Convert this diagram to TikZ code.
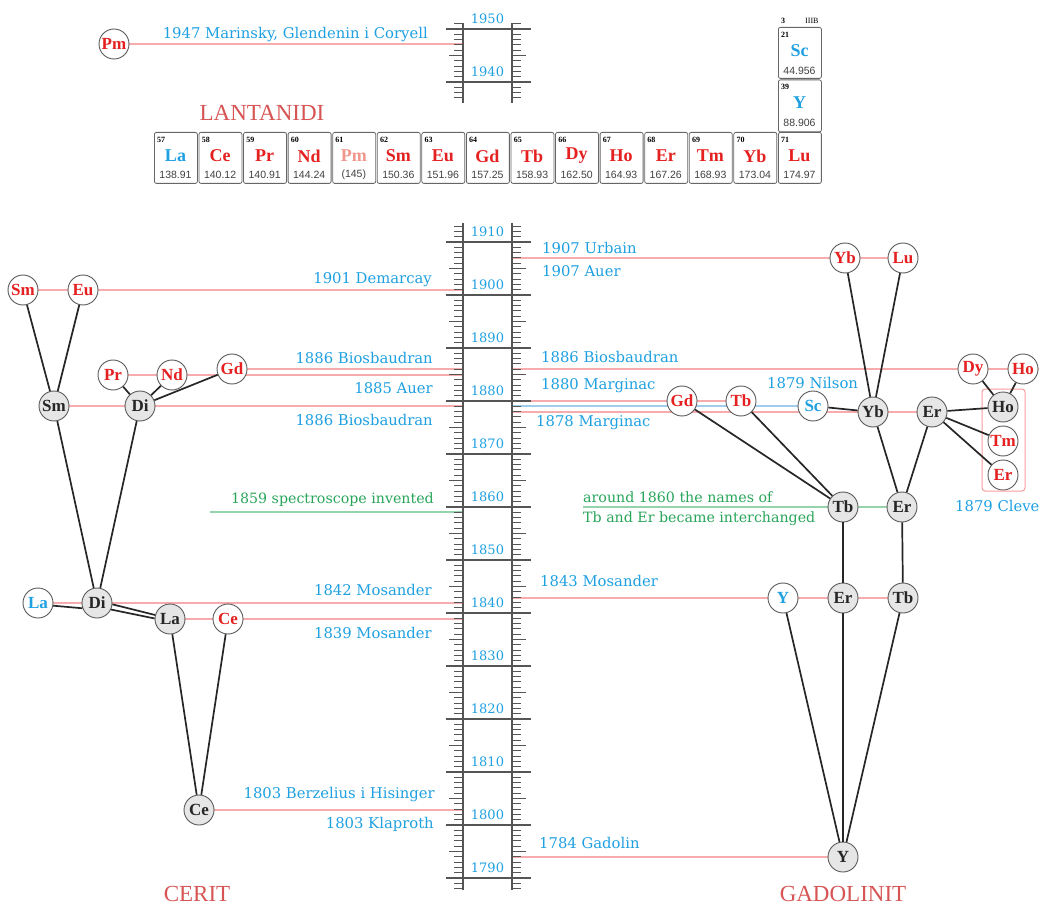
\documentclass[tikz,border=0pt]{standalone}
\usepackage{fontspec}
\setmainfont{DejaVu Serif}
\newfontfamily\elfont{Liberation Serif}
\newfontfamily\massfont{Liberation Sans}
\usetikzlibrary{backgrounds}
\definecolor{blueT}{RGB}{30,160,225}
\definecolor{redE}{RGB}{228,32,32}
\definecolor{pinkL}{RGB}{246,172,172}
\definecolor{greenT}{RGB}{40,165,90}
\definecolor{greenL}{RGB}{150,210,170}
\definecolor{blueL}{RGB}{160,205,235}
\definecolor{titleR}{RGB}{214,84,84}
\definecolor{rulerC}{RGB}{85,85,85}
\definecolor{nodeG}{RGB}{230,230,230}
\definecolor{pmC}{RGB}{242,150,140}
\begin{document}
\begin{tikzpicture}[x=1pt,y=-1pt,
  el/.style={circle,draw=black!65,line width=0.9pt,minimum size=30pt,inner sep=0pt,
    font=\elfont\bfseries\fontsize{17}{17}\selectfont,fill=white},
  elR/.style={el,text=redE},
  elB/.style={el,text=blueT},
  elG/.style={el,fill=nodeG,text=black!85},
  edge/.style={draw=black!85,line width=1.7pt},
  evt/.style={draw=pinkL,line width=1.1pt},
  lbl/.style={font=\fontsize{14.8}{16}\selectfont,text=blueT,inner sep=0pt},
  glbl/.style={font=\fontsize{14.2}{16}\selectfont,text=greenT,inner sep=0pt},
  yrlbl/.style={font=\fontsize{13}{15}\selectfont,text=blueT,inner sep=0pt},
  rul/.style={draw=rulerC,line width=1.1pt},
  ttl/.style={font=\elfont\fontsize{23}{23}\selectfont,text=titleR,inner sep=0pt},
  pbox/.style={draw=black!60,line width=0.8pt,rounded corners=2pt,minimum width=43pt,
    minimum height=51pt,inner sep=0pt,anchor=north west},
  pnum/.style={font=\elfont\bfseries\fontsize{8}{8}\selectfont,inner sep=0pt,anchor=west},
  psym/.style={font=\elfont\bfseries\fontsize{18}{18}\selectfont,inner sep=0pt},
  pmass/.style={font=\massfont\fontsize{10.5}{10.5}\selectfont,text=black!75,inner sep=0pt}
]
\useasboundingbox (0,0) rectangle (1039,909);

% ---------- main ruler ----------
\draw[rul] (463,223) -- (463,890) (512,223) -- (512,890);
\foreach \yr in {1788,...,1913}{
  \pgfmathsetmacro\yy{295+(1900-\yr)*5.3}
  \draw[rul,line width=0.9pt] (454,\yy) -- (463,\yy) (512,\yy) -- (521,\yy);
}
\foreach \yr in {1790,1795,...,1910}{
  \pgfmathsetmacro\yy{295+(1900-\yr)*5.3}
  \draw[rul,line width=0.9pt] (449,\yy) -- (463,\yy) (512,\yy) -- (526,\yy);
}
\foreach \yr in {1790,1800,...,1910}{
  \pgfmathsetmacro\yy{295+(1900-\yr)*5.3}
  \draw[rul] (446,\yy) -- (531,\yy);
  \node[yrlbl] at (487.5,\yy-10) {\yr};
}
% ---------- top ruler ----------
\draw[rul] (463,23) -- (463,103) (512,23) -- (512,103);
\foreach \yr in {1937,...,1951}{
  \pgfmathsetmacro\yy{29+(1950-\yr)*5.3}
  \draw[rul,line width=0.9pt] (454,\yy) -- (463,\yy) (512,\yy) -- (521,\yy);
}
\foreach \yr in {1940,1945,1950}{
  \pgfmathsetmacro\yy{29+(1950-\yr)*5.3}
  \draw[rul,line width=0.9pt] (449,\yy) -- (463,\yy) (512,\yy) -- (526,\yy);
}
\foreach \yr in {1940,1950}{
  \pgfmathsetmacro\yy{29+(1950-\yr)*5.3}
  \draw[rul] (446,\yy) -- (531,\yy);
  \node[yrlbl] at (487.5,\yy-10) {\yr};
}
\coordinate (rL) at (463,0);
\coordinate (rR) at (512,0);

% ---------- periodic table ----------
\node[ttl] (lant) at (262,113) {LANTANIDI};
\foreach \i/\n/\s/\m/\c in {0/57/La/138.91/blueT,1/58/Ce/140.12/redE,2/59/Pr/140.91/redE,
  3/60/Nd/144.24/redE,4/61/Pm/{(145)}/pmC,5/62/Sm/150.36/redE,6/63/Eu/151.96/redE,
  7/64/Gd/157.25/redE,8/65/Tb/158.93/redE,9/66/Dy/162.50/redE,10/67/Ho/164.93/redE,
  11/68/Er/167.26/redE,12/69/Tm/168.93/redE,13/70/Yb/173.04/redE,14/71/Lu/174.97/redE}{
  \pgfmathsetmacro\bx{154+\i*44.57}
  \node[pbox] (pt\n) at (\bx,132) {};
  \node[pnum] at (\bx+3,140) {\n};
  \node[psym,text=\c] at (\bx+21.5,156) {\s};
  \node[pmass] at (\bx+21.5,175) {\m};
}
\node[pbox] (pt21) at (778,27) {};
\node[pnum] at (781,35) {21};
\node[psym,text=blueT] at (799.5,51) {Sc};
\node[pmass] at (799.5,71) {44.956};
\node[pbox,minimum height=52pt] (pt39) at (778,79.5) {};
\node[pnum] at (781,87) {39};
\node[psym,text=blueT] at (799.5,103) {Y};
\node[pmass] at (799.5,123) {88.906};
\node[pnum] at (781,21) {3};
\node[pnum,font=\elfont\fontsize{8}{8}\selectfont] at (805,21) {IIIB};

% ---------- left tree (CERIT) ----------
\node[elR] (Pm) at (114,44) {Pm};
\node[elR] (Sm1) at (23,290) {Sm};
\node[elR] (Eu) at (83,290) {Eu};
\node[elR] (Pr) at (113,375) {Pr};
\node[elR] (Nd) at (172,375) {Nd};
\node[elR] (Gd1) at (232,369) {Gd};
\node[elG] (Sm2) at (54,406) {Sm};
\node[elG] (Di2) at (140,406) {Di};
\node[elB] (La1) at (38,603) {La};
\node[elG] (Di1) at (97,603) {Di};
\node[elG] (La2) at (170,619) {La};
\node[elR] (Ce1) at (228,619) {Ce};
\node[elG] (Ce2) at (199,810) {Ce};
\node[ttl] (cerit) at (197,894) {CERIT};

% ---------- right tree (GADOLINIT) ----------
\node[elR] (Yb1) at (845,258) {Yb};
\node[elR] (Lu1) at (903,258) {Lu};
\node[elR] (Dy) at (973,369) {Dy};
\node[elR] (Ho1) at (1023,369) {Ho};
\node[elR] (Gd2) at (682,401) {Gd};
\node[elR] (Tb2) at (741,401) {Tb};
\node[elB] (Sc) at (813,406) {Sc};
\node[elG] (Yb2) at (873,412) {Yb};
\node[elG] (Er2) at (932,412) {Er};
\node[elG] (Ho2) at (1003,407) {Ho};
\node[elR] (Tm) at (1003,441) {Tm};
\node[elR] (Er3) at (1003,475) {Er};
\node[elG] (Tb3) at (843,507) {Tb};
\node[elG] (Er4) at (902,507) {Er};
\node[elB] (Y1) at (783,598) {Y};
\node[elG] (Er5) at (843,598) {Er};
\node[elG] (Tb4) at (903,598) {Tb};
\node[elG] (Y2) at (843,857) {Y};
\node[ttl] (gado) at (843,894) {GADOLINIT};
\draw[draw=pinkL!90!red,line width=1pt,rounded corners=3pt] (982,389) rectangle (1025,491);

% ---------- labels ----------
\node[lbl,anchor=east] at (428,35) {1947 Marinsky, Glendenin i Coryell};
\node[lbl,anchor=east] at (432,280) {1901 Demarcay};
\node[lbl,anchor=east] at (433,358) {1886 Biosbaudran};
\node[lbl,anchor=east] at (433,388) {1885 Auer};
\node[lbl,anchor=east] at (433,420) {1886 Biosbaudran};
\node[glbl,anchor=east] at (434,500) {1859 spectroscope invented};
\node[lbl,anchor=east] at (432,590) {1842 Mosander};
\node[lbl,anchor=east] at (432,633) {1839 Mosander};
\node[lbl,anchor=east] at (435,795) {1803 Berzelius i Hisinger};
\node[lbl,anchor=east] at (434,824) {1803 Klaproth};
\node[lbl,anchor=west] at (542,248) {1907 Urbain};
\node[lbl,anchor=west] at (542,271) {1907 Auer};
\node[lbl,anchor=west] at (541,357) {1886 Biosbaudran};
\node[lbl,anchor=west] at (541,386) {1880 Marginac};
\node[lbl,anchor=west] at (536,423) {1878 Marginac};
\node[lbl,anchor=west] at (767,383) {1879 Nilson};
\node[glbl,anchor=west] at (583,497) {around 1860 the names of};
\node[glbl,anchor=west] at (583,519) {Tb and Er became interchanged};
\node[lbl,anchor=west] at (955,506) {1879 Cleve};
\node[lbl,anchor=west] at (540,581) {1843 Mosander};
\node[lbl,anchor=west] at (539,843) {1784 Gadolin};

\coordinate (gL) at (210,512);
\coordinate (gR) at (583,507);
\coordinate (rEdge) at (1039,369);

\begin{pgfonlayer}{background}
  % event lines
  \draw[evt] (Pm.center) -- (Pm -| rL);
  \draw[evt] (Sm1.center) -- (Sm1 -| rL);
  \draw[evt] (Gd1.center) -- (Gd1 -| rL);
  \draw[evt] (Pr.center) -- (Pr -| rL);
  \draw[evt] (Sm2.center) -- (Sm2 -| rL);
  \draw[draw=greenL,line width=1.1pt] (gL) -- (gL -| rL);
  \draw[evt] (La1.center) -- (La1 -| rL);
  \draw[evt] (La2.center) -- (La2 -| rL);
  \draw[evt] (Ce2.center) -- (Ce2 -| rL);
  \draw[evt] (Lu1.center) -- (Lu1 -| rR);
  \draw[evt] (rEdge) -- (rEdge -| rR);
  \draw[evt] (Tb2.center) -- (Tb2 -| rR);
  \draw[draw=blueL,line width=1.1pt] (Sc.center) -- (Sc -| rR);
  \draw[evt] (Er2.center) -- (Er2 -| rR);
  \draw[draw=greenL,line width=1.1pt] (gR) -- (Er4.center);
  \draw[evt] (Tb4.center) -- (Tb4 -| rR);
  \draw[evt] (Y2.center) -- (Y2 -| rR);
\end{pgfonlayer}

% ---------- edges left ----------
\draw[edge] (Sm2) -- (Sm1);
\draw[edge] (Sm2) -- (Eu);
\draw[edge] (Di2) -- (Pr);
\draw[edge] (Di2) -- (Nd);
\draw[edge] (Di2) -- (Gd1);
\draw[edge] (Di1) -- (Sm2);
\draw[edge] (Di1) -- (Di2);
\draw[edge] (La1.-10) -- (Di1.200);
\draw[edge] (Di1.-5) -- (La2.165);
\draw[edge] (Di1.-25) -- (La2.178);
\draw[edge] (Ce2) -- (La2);
\draw[edge] (Ce2) -- (Ce1);
% ---------- edges right ----------
\draw[edge] (Yb2) -- (Yb1);
\draw[edge] (Yb2) -- (Lu1);
\draw[edge] (Yb2) -- (Sc);
\draw[edge] (Yb2) -- (Er4);
\draw[edge] (Er2) -- (Er4);
\draw[edge] (Er2) -- (Ho2);
\draw[edge] (Er2) -- (Tm);
\draw[edge] (Er2) -- (Er3);
\draw[edge] (Ho2) -- (Dy);
\draw[edge] (Ho2) -- (Ho1);
\draw[edge] (Tb3) -- (Gd2);
\draw[edge] (Tb3) -- (Tb2);
\draw[edge] (Tb3) -- (Er5);
\draw[edge] (Er4) -- (Tb4);
\draw[edge] (Y2) -- (Y1);
\draw[edge] (Y2) -- (Er5);
\draw[edge] (Y2) -- (Tb4);
\end{tikzpicture}
\end{document}
